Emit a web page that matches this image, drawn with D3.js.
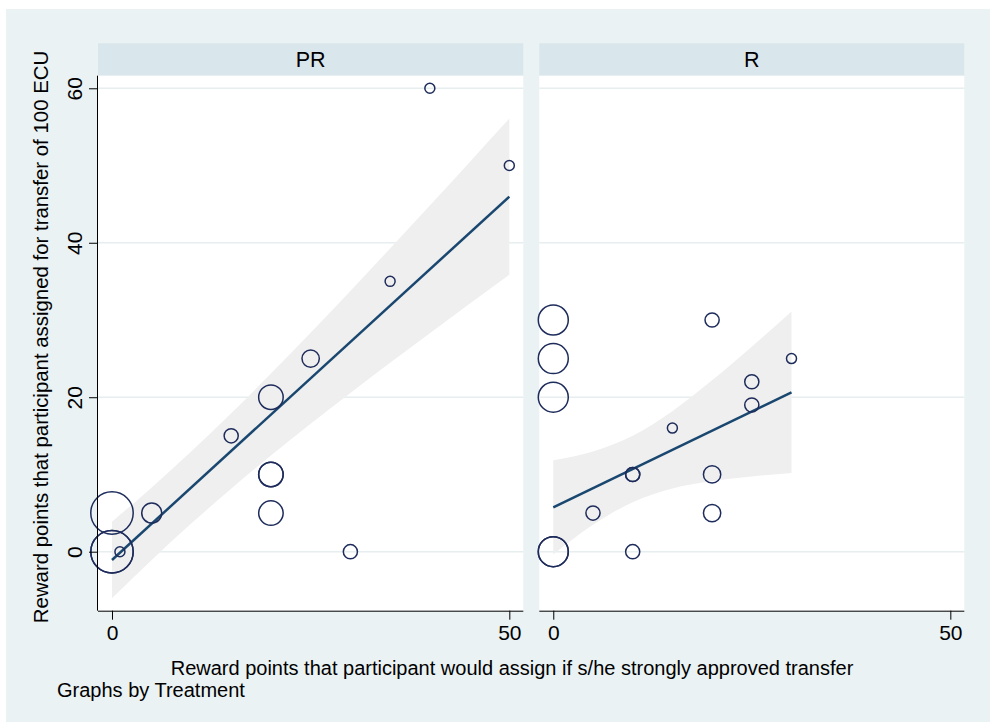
<!DOCTYPE html>
<html>
<head>
<meta charset="utf-8">
<script src="https://cdn.jsdelivr.net/npm/d3@7"></script>
<style>
  html, body { margin: 0; padding: 0; background: #ffffff; }
  svg { display: block; }
  text { font-family: "Liberation Sans", Arial, Helvetica, sans-serif; fill: #000; }
</style>
</head>
<body>
<svg id="chart" width="990" height="725"></svg>
<script>
// ---------------- DATA ----------------
const treatments = ["PR", "R"];

// PR treatment: x = points if strongly approved, y = points assigned, w = frequency weight
const prX = [0, 0, 0, 1, 5, 15, 20, 20, 20, 20, 25, 30, 35, 40, 50];
const prY = [5, 0, 0, 0, 5, 15, 20, 10, 10, 5, 25, 0, 35, 60, 50];
const prW = [18, 18, 18, 1, 4, 2, 6, 6, 6, 6, 3, 2, 1, 1, 1];

// R treatment
const rX = [0, 0, 0, 0, 0, 5, 10, 10, 10, 15, 20, 20, 20, 25, 25, 30];
const rY = [30, 25, 20, 0, 0, 5, 10, 10, 0, 16, 30, 10, 5, 22, 19, 25];
const rW = [9, 9, 9, 9, 9, 2, 2, 2, 2, 1, 2, 3, 3, 2, 2, 1];

// Linear fit (endpoints) and 95% CI band
const prFitX = [0, 50];
const prFitY = [-1.07, 45.97];
const prCiX  = [0, 5, 10, 15, 20, 25, 30, 35, 40, 45, 50];
const prCiLo = [-6.03, -1.06, 3.67, 8.16, 12.44, 16.55, 20.54, 24.45, 28.29, 32.10, 35.86];
const prCiHi = [3.89, 8.32, 13.01, 17.92, 23.06, 28.35, 33.76, 39.27, 44.83, 50.44, 56.08];

const rFitX = [0, 30];
const rFitY = [5.75, 20.64];
const rCiX  = [0, 5, 10, 15, 20, 25, 30];
const rCiLo = [-0.35, 3.48, 6.41, 8.18, 9.15, 9.75, 10.18];
const rCiHi = [11.85, 12.98, 15.01, 18.20, 22.19, 26.55, 31.10];

const xTicks = [0, 50];
const yTicks = [0, 20, 40, 60];

const xTitle = "Reward points that participant would assign if s/he strongly approved transfer";
const yTitle = "Reward points that participant assigned for transfer of 100 ECU";
const noteText = "Graphs by Treatment";

// ---------------- LAYOUT ----------------
const svg = d3.select("#chart");
const W = 990, H = 725;
const headerTop = 43.3, plotTop = 75.7, plotBottom = 610.7;
const panelX = [[98, 523.3], [539.3, 964.3]];
const xDomain = [-1.76, 51.76];
const yDomain = [-7.64, 61.63];

const COL = {
  bg: "#eaf2f3",
  strip: "#d9e6eb",
  grid: "#e6eef0",
  band: "#efefef",
  fit: "#1a476f",
  marker: "#1e2c5b",
  axis: "#000000"
};

svg.append("rect").attr("x", 6).attr("y", 9).attr("width", W - 6).attr("height", 713)
  .attr("fill", COL.bg);

const y = d3.scaleLinear().domain(yDomain).range([plotBottom, plotTop]);
const rScale = d3.scaleSqrt().domain([0, 1]).range([0, 5]).clamp(false);

const panels = [
  { name: treatments[0], xs: prX, ys: prY, ws: prW, fx: prFitX, fy: prFitY, cx: prCiX, lo: prCiLo, hi: prCiHi },
  { name: treatments[1], xs: rX, ys: rY, ws: rW, fx: rFitX, fy: rFitY, cx: rCiX, lo: rCiLo, hi: rCiHi }
];

panels.forEach((p, i) => {
  const [x0, x1] = panelX[i];
  const x = d3.scaleLinear().domain(xDomain).range([x0, x1]);
  const g = svg.append("g");

  // strip header
  g.append("rect").attr("x", x0).attr("y", headerTop).attr("width", x1 - x0)
    .attr("height", plotTop - headerTop).attr("fill", COL.strip);
  g.append("text").attr("x", (x0 + x1) / 2).attr("y", 67)
    .attr("text-anchor", "middle").attr("font-size", 21.5).text(p.name);

  // plot region
  g.append("rect").attr("x", x0).attr("y", plotTop).attr("width", x1 - x0)
    .attr("height", plotBottom - plotTop).attr("fill", "#ffffff");

  // gridlines
  g.selectAll(".grid").data(yTicks).join("line")
    .attr("x1", x0).attr("x2", x1)
    .attr("y1", d => y(d)).attr("y2", d => y(d))
    .attr("stroke", COL.grid).attr("stroke-width", 1.5);

  // CI band
  const band = p.cx.map((v, k) => ({ x: v, lo: p.lo[k], hi: p.hi[k] }));
  g.append("path").datum(band)
    .attr("d", d3.area().x(d => x(d.x)).y0(d => y(d.lo)).y1(d => y(d.hi)).curve(d3.curveMonotoneX))
    .attr("fill", COL.band);

  // fit line
  const fit = p.fx.map((v, k) => ({ x: v, y: p.fy[k] }));
  g.append("path").datum(fit)
    .attr("d", d3.line().x(d => x(d.x)).y(d => y(d.y)))
    .attr("fill", "none").attr("stroke", COL.fit).attr("stroke-width", 2.5);

  // markers
  const pts = p.xs.map((v, k) => ({ x: v, y: p.ys[k], w: p.ws[k] }));
  g.selectAll(".pt").data(pts).join("circle")
    .attr("cx", d => x(d.x)).attr("cy", d => y(d.y)).attr("r", d => rScale(d.w))
    .attr("fill", "none").attr("stroke", COL.marker).attr("stroke-width", 1.5);

  // x axis
  const xa = g.append("g").attr("transform", `translate(0,${plotBottom})`)
    .call(d3.axisBottom(x).tickValues(xTicks).tickSize(9).tickPadding(5).tickSizeOuter(0));
  xa.select(".domain").attr("d", `M${x0},0.5H${x1}`).attr("stroke", COL.axis);
  xa.selectAll(".tick line").attr("stroke", COL.axis);
  xa.selectAll(".tick text").attr("font-size", 21)
    .attr("font-family", '"Liberation Sans", Arial, sans-serif').attr("fill", "#000");

  // y axis (first panel only)
  if (i === 0) {
    const ya = g.append("g").attr("transform", `translate(${x0},0)`)
      .call(d3.axisLeft(y).tickValues(yTicks).tickSize(9).tickSizeOuter(0));
    ya.select(".domain").attr("d", `M-0.5,${plotTop}V${plotBottom}`).attr("stroke", COL.axis);
    ya.selectAll(".tick line").attr("stroke", COL.axis);
    ya.selectAll(".tick text").remove();
    ya.selectAll(".tick").append("text")
      .attr("transform", "translate(-16.3,0) rotate(-90)")
      .attr("text-anchor", "middle").attr("font-size", 21)
      .attr("font-family", '"Liberation Sans", Arial, sans-serif').attr("fill", "#000")
      .text(d => d);
  }
});

// titles
svg.append("text").attr("x", 512).attr("y", 675).attr("text-anchor", "middle")
  .attr("font-size", 20).text(xTitle);
svg.append("text").attr("transform", "translate(47.5,337) rotate(-90)")
  .attr("text-anchor", "middle").attr("font-size", 20.4).text(yTitle);
svg.append("text").attr("x", 57).attr("y", 697).attr("font-size", 20).text(noteText);
</script>
</body>
</html>
